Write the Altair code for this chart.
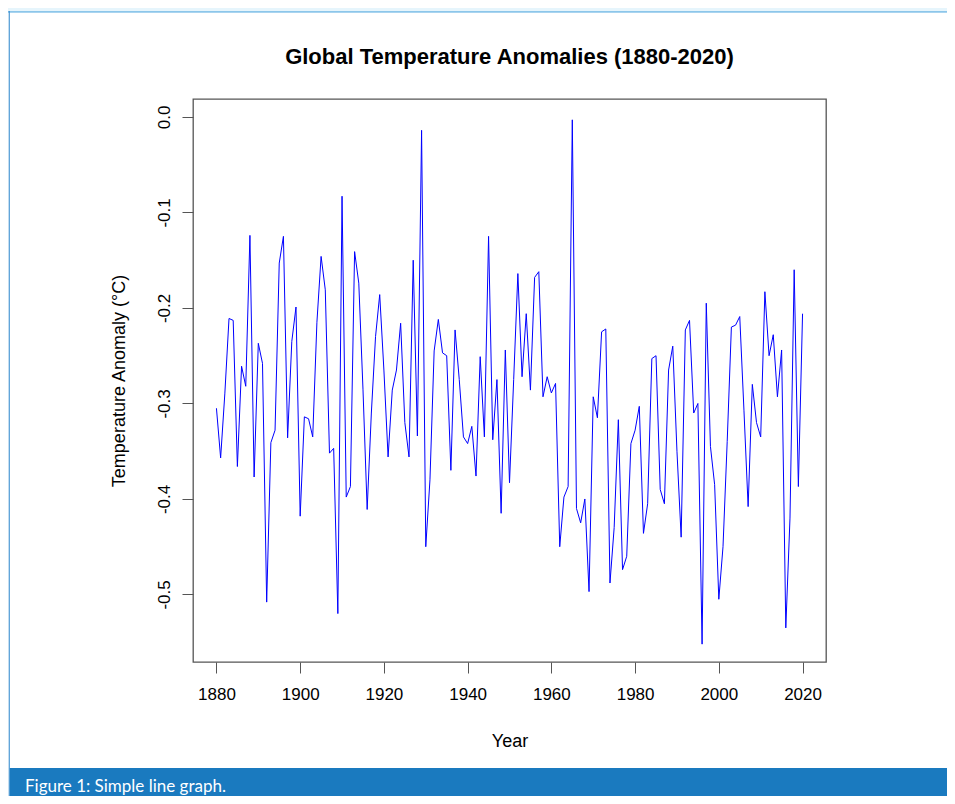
import altair as alt
import pandas as pd

# ---- data ----
years = list(range(1880, 2021))
anom_1880s = [-0.305, -0.357, -0.290, -0.211, -0.213, -0.366, -0.261, -0.282, -0.124, -0.377]
anom_1890s = [-0.237, -0.258, -0.508, -0.341, -0.328, -0.153, -0.125, -0.336, -0.235, -0.199]
anom_1900s = [-0.418, -0.314, -0.316, -0.335, -0.215, -0.146, -0.181, -0.352, -0.347, -0.520]
anom_1910s = [-0.083, -0.398, -0.387, -0.141, -0.174, -0.285, -0.411, -0.310, -0.230, -0.186]
anom_1920s = [-0.265, -0.356, -0.286, -0.265, -0.216, -0.320, -0.356, -0.150, -0.334, -0.014]
anom_1930s = [-0.450, -0.380, -0.245, -0.212, -0.247, -0.250, -0.370, -0.223, -0.275, -0.335]
anom_1940s = [-0.342, -0.324, -0.376, -0.251, -0.335, -0.125, -0.338, -0.275, -0.415, -0.244]
anom_1950s = [-0.383, -0.275, -0.164, -0.272, -0.206, -0.286, -0.168, -0.162, -0.293, -0.272]
anom_1960s = [-0.289, -0.279, -0.450, -0.398, -0.387, -0.003, -0.410, -0.425, -0.400, -0.497]
anom_1970s = [-0.293, -0.315, -0.225, -0.222, -0.488, -0.430, -0.317, -0.474, -0.460, -0.342]
anom_1980s = [-0.328, -0.303, -0.436, -0.405, -0.253, -0.250, -0.390, -0.405, -0.265, -0.240]
anom_1990s = [-0.350, -0.440, -0.223, -0.213, -0.310, -0.300, -0.552, -0.195, -0.345, -0.385]
anom_2000s = [-0.505, -0.450, -0.340, -0.220, -0.218, -0.209, -0.307, -0.408, -0.280, -0.320]
anom_2010s = [-0.335, -0.183, -0.250, -0.228, -0.293, -0.244, -0.535, -0.420, -0.160, -0.387]
anom_2020s = [-0.206]

x_ticks = [1880, 1900, 1920, 1940, 1960, 1980, 2000, 2020]
y_ticks = [0.0, -0.1, -0.2, -0.3, -0.4, -0.5]

title_text = "Global Temperature Anomalies (1880-2020)"
x_title = "Year"
y_title = "Temperature Anomaly (\u00b0C)"
caption_text = "Figure 1: Simple line graph."

anomalies = (anom_1880s + anom_1890s + anom_1900s + anom_1910s + anom_1920s +
             anom_1930s + anom_1940s + anom_1950s + anom_1960s + anom_1970s +
             anom_1980s + anom_1990s + anom_2000s + anom_2010s + anom_2020s)

df = pd.DataFrame({"Year": years, "Anomaly": anomalies})
deco = pd.DataFrame({"k": [0]})

W, H = 633, 563
PAD_L, PAD_T, PAD_R, PAD_B = 185, 91, 121, 134
FONT = "Liberation Sans"
AXIS_COL = "#555555"

line = alt.Chart(df).mark_line(color="#0000ff", strokeWidth=1).encode(
    x=alt.X(
        "Year:Q",
        scale=alt.Scale(domain=[1874.4, 2025.6], nice=False, zero=False),
        axis=alt.Axis(
            values=x_ticks, format="d", title=x_title, domain=False, grid=False,
            tickSize=11, tickColor=AXIS_COL, tickWidth=1,
            labelFont=FONT, labelFontSize=17, labelColor="black", labelPadding=13,
            labelFlush=False, labelOverlap=False,
            titleFont=FONT, titleFontSize=18, titleFontWeight="normal", titleColor="black",
            titleX=W / 2, titleY=79, titleBaseline="middle", titleAlign="center",
        ),
    ),
    y=alt.Y(
        "Anomaly:Q",
        scale=alt.Scale(domain=[-0.5707, 0.0188], nice=False, zero=False),
        axis=alt.Axis(
            values=y_ticks, title=y_title, domain=False, grid=False,
            labelExpr="replace(format(datum.value, '.1f'), '\u2212', '-')",
            tickSize=11, tickColor=AXIS_COL, tickWidth=1,
            labelFont=FONT, labelFontSize=17, labelColor="black", labelPadding=9,
            labelAngle=270, labelAlign="center", labelBaseline="bottom",
            labelFlush=False, labelOverlap=False,
            titleFont=FONT, titleFontSize=18, titleFontWeight="normal", titleColor="black",
            titleAngle=270, titleX=-74, titleY=H / 2, titleBaseline="middle", titleAlign="center",
        ),
    ),
)

title = alt.Chart(deco).mark_text(
    align="center", baseline="middle", font=FONT, fontSize=22, fontWeight="bold", color="black"
).encode(x=alt.value(W / 2), y=alt.value(-42), text=alt.value(title_text))

band = alt.Chart(deco).mark_rect(color="#e6f5fc").encode(
    x=alt.value(-PAD_L), x2=alt.value(W + PAD_R), y=alt.value(-PAD_T), y2=alt.value(-88)
)
topline = alt.Chart(deco).mark_rect(color="#8cc6ea").encode(
    x=alt.value(-PAD_L), x2=alt.value(W + PAD_R), y=alt.value(-88), y2=alt.value(-86.3)
)
leftline = alt.Chart(deco).mark_rect(color="#3a8fd0").encode(
    x=alt.value(-184.3), x2=alt.value(-183.2), y=alt.value(-88), y2=alt.value(H + PAD_B)
)
caption_bar = alt.Chart(deco).mark_rect(color="#1a7abf").encode(
    x=alt.value(-183.2), x2=alt.value(W + PAD_R), y=alt.value(669), y2=alt.value(H + PAD_B)
)
caption = alt.Chart(deco).mark_text(
    align="left", baseline="middle", font="Lato", fontSize=17, color="white"
).encode(x=alt.value(-168), y=alt.value(688), text=alt.value(caption_text))

chart = alt.layer(band, topline, leftline, caption_bar, caption, title, line).properties(
    width=W,
    height=H,
    padding={"left": PAD_L, "top": PAD_T, "right": PAD_R, "bottom": PAD_B},
    autosize=alt.AutoSizeParams(type="none"),
    background="white",
).configure_view(stroke=AXIS_COL, strokeWidth=1.3, fill="white")

chart.save("out.html", embed_options={"renderer": "svg", "actions": False})
